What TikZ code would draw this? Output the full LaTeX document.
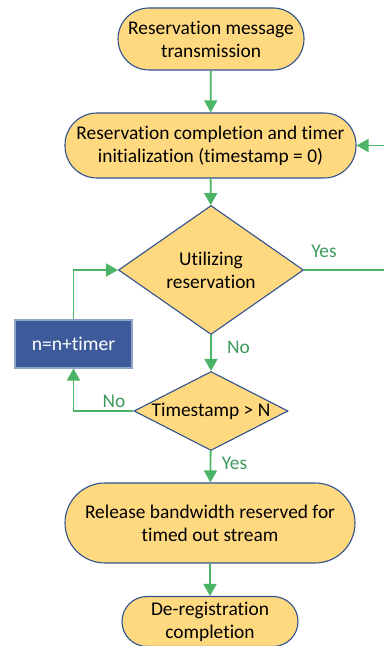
\documentclass[tikz,border=0pt]{standalone}
\usepackage{fontspec}
\setmainfont{Carlito}[Ligatures=NoCommon]
\usetikzlibrary{shapes.geometric,arrows.meta}
\definecolor{boxfill}{HTML}{FFD97F}
\definecolor{boxline}{HTML}{2F528F}
\definecolor{flow}{HTML}{4CB466}
\definecolor{flowtext}{HTML}{3E9A5C}
\definecolor{stepfill}{HTML}{3D5B9A}
\definecolor{stepline}{HTML}{8FA3C8}
\tikzset{basic/.style={draw=boxline,fill=boxfill,line width=1.1pt,
                       text badly centered,align=center,inner sep=0pt,
                       font=\fontsize{19.4}{23}\selectfont}}
\tikzset{terminal/.style={basic,rectangle,rounded corners=#1}}
\tikzset{decision/.style={basic,diamond}}
\tikzset{process/.style={basic,rectangle,fill=stepfill,draw=stepline,text=white,
                         font=\fontsize{19.6}{23}\selectfont}}
\tikzset{flowline/.style={draw=flow,line width=1.8pt,
                          -{Triangle[width=13pt,length=12pt]}}}
\tikzset{flowlabel/.style={text=flowtext,font=\fontsize{19.4}{23}\selectfont}}
\begin{document}
\begin{tikzpicture}[x=1pt,y=1pt]
    \useasboundingbox (0,0) rectangle (384,646);
    \node[terminal=31pt,minimum width=186pt,minimum height=62pt] (send) at (211,607)
        {Reservation message\\transmission};
    \node[terminal=32pt,minimum width=291pt,minimum height=65pt] (init) at (210.5,500.5)
        {Reservation completion and timer\\initialization (timestamp = 0)};
    \node[decision,minimum width=185pt,minimum height=129pt,aspect=1.43] (use) at (211,376)
        {Utilizing\\reservation};
    \node[decision,minimum width=154pt,minimum height=79pt,aspect=1.95,inner xsep=-2pt] (check) at (211,235)
        {Timestamp > N};
    \node[process,minimum width=117pt,minimum height=48pt] (timer) at (73.5,302)
        {n=n+timer};
    \node[terminal=40pt,minimum width=290pt,minimum height=80pt] (release) at (210,123)
        {Release bandwidth reserved for\\timed out stream};
    \node[terminal=25pt,minimum width=176pt,minimum height=50pt] (dereg) at (210,24.5)
        {De-registration\\completion};
    % loose ends at the right border
    \coordinate (back) at (384,500.5);
    \coordinate (out) at (384,376);
    % Connectors
    \draw[flowline] (send) -- (init);
    \draw[flowline] (back) -- (init.east);
    \draw[flowline] (init) -- (use);
    \draw[flowline,-] (use.east) -- (out);
    \draw[flowline] (use) -- (check);
    \draw[flowline] (check.west) -| (timer.south);
    \draw[flowline] (timer.north) |- (use.west);
    \draw[flowline] (check) -- (release);
    \draw[flowline] (release) -- (dereg);
    % Labels
    \node[flowlabel] (yes1) at (324,395) {Yes};
    \node[flowlabel] (no1) at (238.5,299) {No};
    \node[flowlabel] (no2) at (114,245) {No};
    \node[flowlabel] (yes2) at (234.5,183) {Yes};
\end{tikzpicture}
\end{document}
